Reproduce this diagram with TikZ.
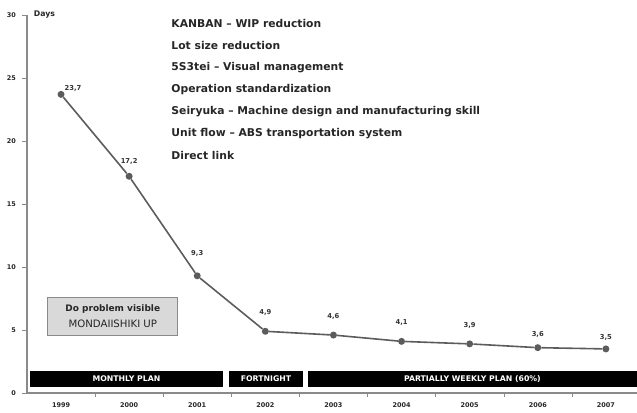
\documentclass[tikz,border=0pt]{standalone}
\usepackage{fontspec}
\setmainfont{DejaVu Sans}
\usetikzlibrary{positioning}
\definecolor{linegray}{HTML}{5C5C5C}
\definecolor{axisgray}{HTML}{8A8A8A}
\definecolor{boxgray}{HTML}{D9D9D9}
\tikzset{
  dot/.style={circle,fill=linegray,inner sep=0pt,minimum size=7bp},
  vlabel/.style={font=\bfseries\fontsize{6.8}{8}\selectfont,text=black!80},
  ticklabel/.style={font=\bfseries\fontsize{6.5}{7}\selectfont,text=black!85},
  measure/.style={anchor=west,font=\bfseries\fontsize{10.8}{12}\selectfont,text=black!85},
  planbar/.style={fill=black,text=white,inner sep=0pt,minimum height=16bp,
    font=\bfseries\fontsize{7.8}{8}\selectfont}
}
\begin{document}
\begin{tikzpicture}[x=68.1bp,y=12.6bp]
\useasboundingbox (-0.396,-1.508) rectangle (8.957,31.19);
% axes
\draw[axisgray,line width=1.2bp] (0,30) -- (0,0) -- (8.957,0);
\foreach \y in {0,5,...,30}
  \draw[axisgray] (0,\y) -- (-0.07,\y);
\foreach \y in {0,5,...,30}
  \node[ticklabel,anchor=east] (t\y) at (-0.11,\y) {\y};
\foreach \k in {1,...,8}
  \draw[axisgray] (\k,0) -- (\k,-0.3);
\node[ticklabel,font=\bfseries\fontsize{7.8}{8}\selectfont,anchor=west] (days) at (0.05,30) {Days};
% years
\foreach \yr [count=\i from 0] in {1999,2000,...,2007}
  \node[ticklabel] (yr\i) at (\i+0.5,-0.95) {\yr};
% plan bars
\node[planbar,minimum width=193bp] (monthly) at (1.461,1.111) {MONTHLY PLAN};
\node[planbar,minimum width=74bp] (fortnight) at (3.51,1.111) {FORTNIGHT};
\node[planbar,minimum width=329bp] (weekly) at (6.54,1.111) {PARTIALLY WEEKLY PLAN (60\%)};
% data
\foreach \v [count=\i] in {23.7,17.2,9.3,4.9,4.6,4.1,3.9,3.6,3.5}
  \node[dot] (p\i) at (\i-0.5,\v) {};
\draw[linegray,line width=1.6bp] (p1) -- (p2) -- (p3) -- (p4) -- (p5) -- (p6) -- (p7) -- (p8) -- (p9);
\foreach \lab/\dx/\dy [count=\i] in {23{,}7/12/6,17{,}2/0/15,9{,}3/0/22,4{,}9/0/19,4{,}6/0/19,4{,}1/0/19,3{,}9/0/18,3{,}6/0/13,3{,}5/0/11}
  \node[vlabel] (l\i) at ([shift={(\dx bp,\dy bp)}]p\i) {\lab};
% box
\node[draw=axisgray,fill=boxgray,line width=1bp,minimum width=130bp,minimum height=38bp,
  align=center,text=black!85] (visible) at (1.26,6.11)
  {{\bfseries\fontsize{9}{11}\selectfont Do problem visible}\\[4bp]
   {\fontsize{10.2}{11}\selectfont MONDAIISHIKI UP}};
% measures
\node[measure] (m1) at (2.07,29.29) {KANBAN – WIP reduction};
\node[measure] (m2) at (2.07,27.55) {Lot size reduction};
\node[measure] (m3) at (2.07,25.81) {5S3tei – Visual management};
\node[measure] (m4) at (2.07,24.07) {Operation standardization};
\node[measure] (m5) at (2.07,22.33) {Seiryuka – Machine design and manufacturing skill};
\node[measure] (m6) at (2.07,20.59) {Unit flow – ABS transportation system};
\node[measure] (m7) at (2.07,18.85) {Direct link};
\end{tikzpicture}
\end{document}
